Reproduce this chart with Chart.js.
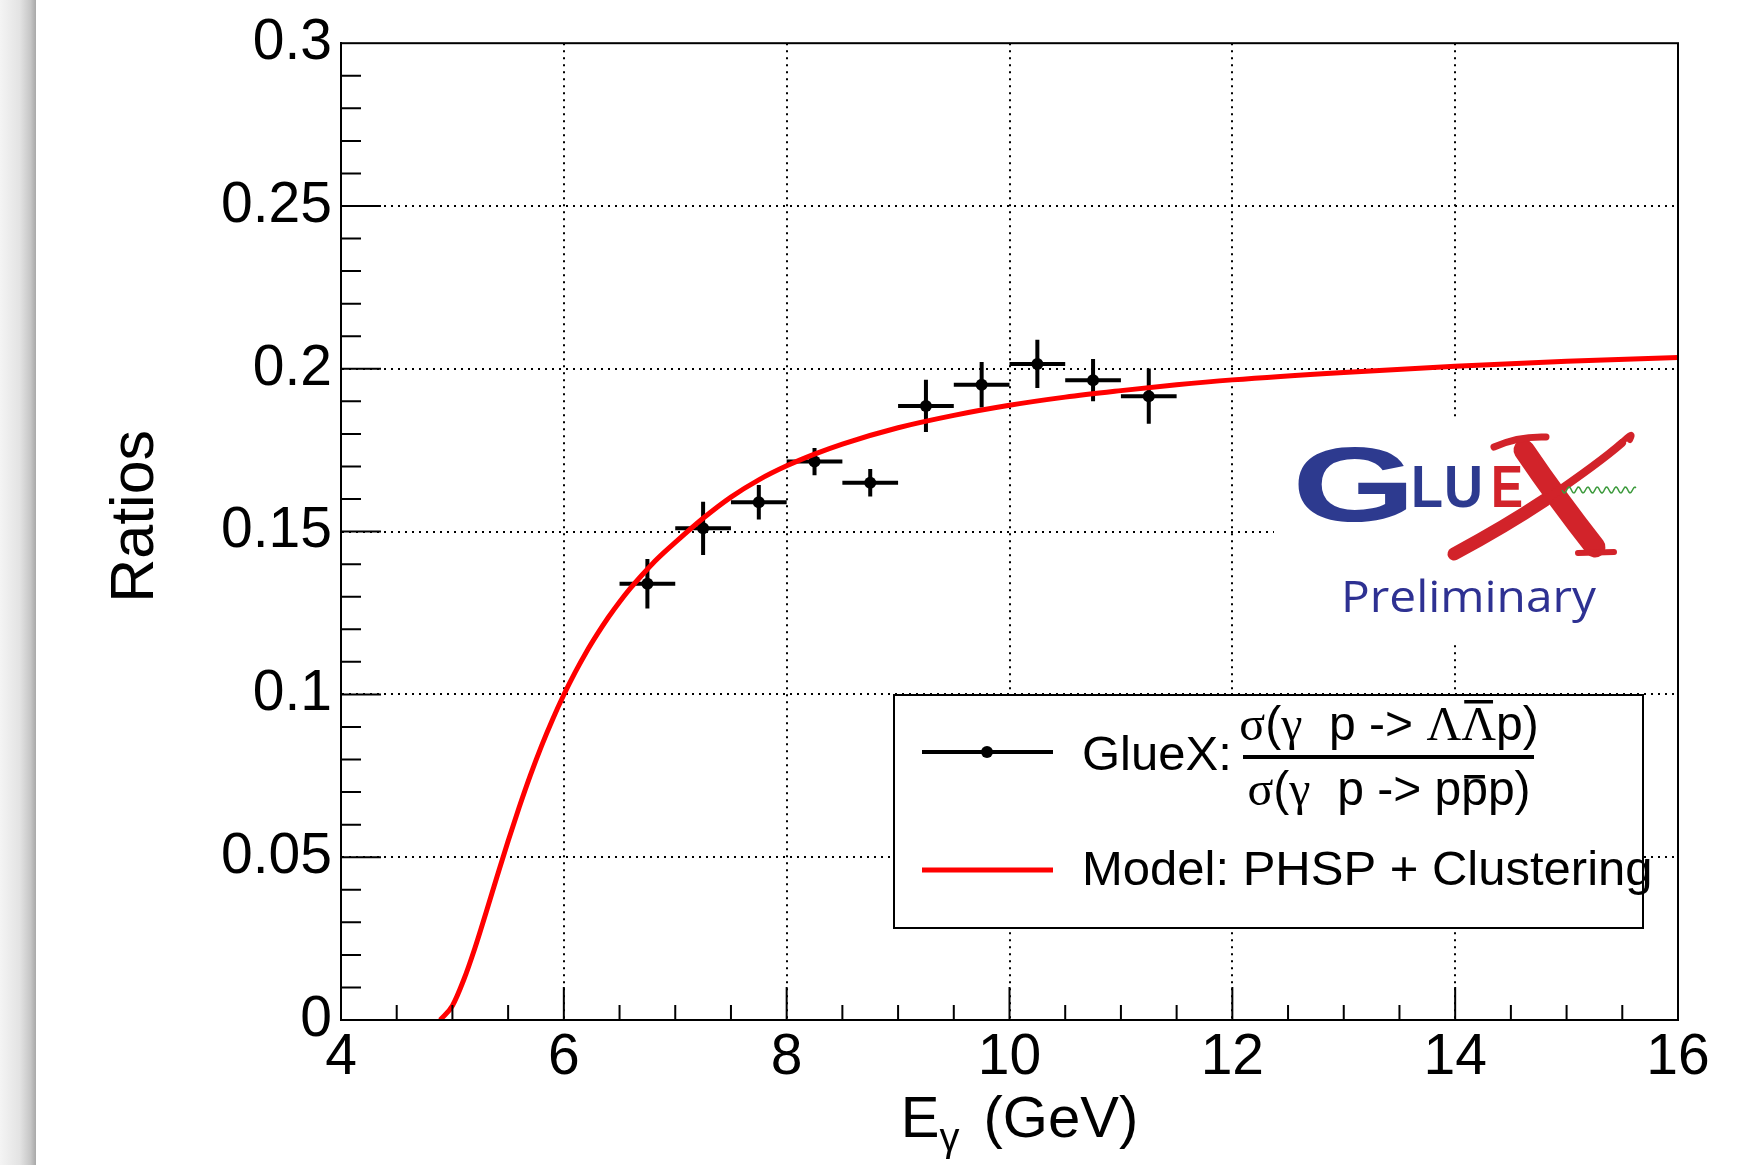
<!DOCTYPE html>
<html>
<head>
<meta charset="utf-8">
<script src="https://cdn.jsdelivr.net/npm/chart.js@4.4.1/dist/chart.umd.min.js"></script>
<style>
  html, body { margin: 0; padding: 0; background: #fff; }
  #wrap { width: 1737px; height: 1165px; }
</style>
</head>
<body>
<div id="wrap"><canvas id="ratioChart" width="1737" height="1165"></canvas></div>
<script>
// GlueX points (bin centre, half bin width, ratio, stat. error)
const energy = [6.75, 7.25, 7.75, 8.25, 8.75, 9.25, 9.75, 10.25, 10.75, 11.25];
const energyErr = [0.25, 0.25, 0.25, 0.25, 0.25, 0.25, 0.25, 0.25, 0.25, 0.25];
const ratio = [0.134, 0.151, 0.159, 0.1715, 0.165, 0.1886, 0.1951, 0.2015, 0.1965, 0.1916];
const ratioErr = [0.0076, 0.0082, 0.0053, 0.0042, 0.0042, 0.0080, 0.0070, 0.0074, 0.0065, 0.0085];

// model curve: PHSP + clustering
const modelEnergy = [4.89, 5.0, 5.1, 5.2, 5.3, 5.4, 5.5, 5.6, 5.7, 5.8, 5.9, 6.0, 6.1, 6.2, 6.3, 6.4,
  6.5, 6.6, 6.7, 6.8, 6.9, 7.0, 7.25, 7.5, 7.75, 8.0, 8.25, 8.5, 9.0, 9.5, 10.0, 10.5, 11.0, 11.5,
  12.0, 13.0, 14.0, 15.0, 16.0];
const modelRatio = [0, 0.0044, 0.0122, 0.0219, 0.0328, 0.044, 0.055, 0.0654, 0.0752, 0.0842, 0.0924,
  0.0999, 0.1067, 0.1129, 0.1185, 0.1237, 0.1284, 0.1327, 0.1366, 0.1403, 0.1436, 0.1467, 0.1541,
  0.1606, 0.1659, 0.1702, 0.1738, 0.1769, 0.1819, 0.1857, 0.1888, 0.1913, 0.1933, 0.1951, 0.1966,
  0.1989, 0.2008, 0.2023, 0.2035];

// axis ticks
const xTicks = [4, 6, 8, 10, 12, 14, 16];
const yTicks = [0, 0.05, 0.1, 0.15, 0.2, 0.25, 0.3];

const SANS = '"Liberation Sans", Arial, Helvetica, sans-serif';
const SERIF = '"Liberation Serif", "Times New Roman", serif';

// draws a row of text pieces centred on cx, some with an overline
function drawRich(ctx, segs, cx, baseline) {
  let total = 0;
  segs.forEach(s => { ctx.font = s.font; s.w = ctx.measureText(s.t).width; total += s.w; });
  let x = cx - total / 2;
  segs.forEach(s => {
    ctx.font = s.font;
    ctx.fillText(s.t, x, baseline);
    if (s.bar) ctx.fillRect(x + 3, baseline - s.bar, s.w - 6, 3.5);
    x += s.w;
  });
}

function fitText(ctx, text, x, baseline, width) {
  const w = ctx.measureText(text).width;
  ctx.save();
  ctx.translate(x, baseline);
  ctx.scale(width / w, 1);
  ctx.fillText(text, 0, 0);
  ctx.restore();
}

function drawLogo(ctx) {
  ctx.fillStyle = '#fff';
  ctx.fillRect(1274, 418, 400, 227);
  ctx.textBaseline = 'alphabetic';
  ctx.textAlign = 'left';
  ctx.fillStyle = '#2d3a8f';
  ctx.font = `bold 106px ${SANS}`;
  fitText(ctx, 'G', 1292, 521, 124);
  ctx.font = `bold 59px ${SANS}`;
  fitText(ctx, 'L', 1411, 507, 32);
  fitText(ctx, 'U', 1444, 507, 39);
  ctx.fillStyle = '#d2232a';
  fitText(ctx, 'E', 1491, 507, 32);

  // the swashed X
  ctx.strokeStyle = '#d2232a';
  ctx.lineCap = 'round';
  ctx.lineWidth = 21;
  ctx.beginPath();
  ctx.moveTo(1524, 450);
  ctx.quadraticCurveTo(1558, 500, 1595, 547);
  ctx.stroke();
  ctx.lineWidth = 7;
  ctx.beginPath();
  ctx.moveTo(1494, 447);
  ctx.quadraticCurveTo(1518, 436, 1546, 437);
  ctx.stroke();
  ctx.lineWidth = 6;
  ctx.beginPath();
  ctx.moveTo(1578, 553);
  ctx.lineTo(1614, 552);
  ctx.stroke();
  ctx.lineWidth = 13;
  ctx.beginPath();
  ctx.moveTo(1454, 554);
  ctx.bezierCurveTo(1480, 540, 1515, 520, 1545, 500);
  ctx.stroke();
  ctx.lineWidth = 8;
  ctx.beginPath();
  ctx.moveTo(1545, 500);
  ctx.bezierCurveTo(1580, 476, 1605, 458, 1622, 443);
  ctx.stroke();
  ctx.lineWidth = 6;
  ctx.beginPath();
  ctx.moveTo(1620, 444);
  ctx.quadraticCurveTo(1636, 428, 1630, 440);
  ctx.stroke();

  // green gluon wiggle
  ctx.strokeStyle = '#3c9a3c';
  ctx.lineWidth = 1.5;
  ctx.lineCap = 'butt';
  ctx.beginPath();
  for (let x = 1562; x <= 1636; x += 1) {
    const y = 490 + 3 * Math.sin((x - 1562) / 9.4 * 2 * Math.PI);
    if (x === 1562) ctx.moveTo(x, y); else ctx.lineTo(x, y);
  }
  ctx.stroke();

  ctx.fillStyle = '#2e3192';
  ctx.font = `43px "Open Sans", ${SANS}`;
  fitText(ctx, 'Preliminary', 1341, 612, 255);
}

function drawLegend(ctx) {
  ctx.fillStyle = '#fff';
  ctx.fillRect(894, 695, 749, 233);
  ctx.strokeStyle = '#000';
  ctx.lineWidth = 2;
  ctx.strokeRect(894, 695, 749, 233);
  ctx.lineWidth = 4;
  ctx.beginPath();
  ctx.moveTo(922, 752);
  ctx.lineTo(1053, 752);
  ctx.stroke();
  ctx.fillStyle = '#000';
  ctx.beginPath();
  ctx.arc(987, 752, 6, 0, 2 * Math.PI);
  ctx.fill();
  ctx.strokeStyle = '#ff0000';
  ctx.lineWidth = 5;
  ctx.beginPath();
  ctx.moveTo(922, 870);
  ctx.lineTo(1053, 870);
  ctx.stroke();

  ctx.fillStyle = '#000';
  ctx.textBaseline = 'alphabetic';
  ctx.textAlign = 'left';
  ctx.font = `49px ${SANS}`;
  ctx.fillText('GlueX:', 1082, 770);
  ctx.fillText('Model: PHSP + Clustering', 1082, 885);
  const fs = `48px ${SANS}`, fg = `48px ${SERIF}`;
  drawRich(ctx, [
    { t: 'σ', font: fg }, { t: '(', font: fs }, { t: 'γ', font: fg },
    { t: '  p -> ', font: fs }, { t: 'Λ', font: fg }, { t: 'Λ', font: fg, bar: 40 },
    { t: 'p)', font: fs }
  ], 1389, 740);
  ctx.fillRect(1243, 755, 291, 4);
  drawRich(ctx, [
    { t: 'σ', font: fg }, { t: '(', font: fs }, { t: 'γ', font: fg },
    { t: '  p -> p', font: fs }, { t: 'p', font: fs, bar: 30 }, { t: 'p)', font: fs }
  ], 1389, 805);
}

const rootStyle = {
  id: 'rootStyle',
  beforeDraw(chart) {
    const ctx = chart.ctx;
    ctx.save();
    ctx.fillStyle = '#fff';
    ctx.fillRect(0, 0, chart.width, chart.height);
    // grey window edge on the left
    const g = ctx.createLinearGradient(0, 0, 36, 0);
    g.addColorStop(0, '#f4f4f4');
    g.addColorStop(0.55, '#e3e3e3');
    g.addColorStop(0.85, '#c6c6c6');
    g.addColorStop(1, '#a8a8a8');
    ctx.fillStyle = g;
    ctx.fillRect(0, 0, 36, chart.height);
    ctx.restore();
  },
  beforeDatasetsDraw(chart) {
    // error bars under the markers
    const ctx = chart.ctx, xs = chart.scales.x, ys = chart.scales.y;
    ctx.save();
    ctx.strokeStyle = '#000';
    ctx.lineWidth = 4;
    energy.forEach((e, i) => {
      const px = xs.getPixelForValue(e), py = ys.getPixelForValue(ratio[i]);
      ctx.beginPath();
      ctx.moveTo(xs.getPixelForValue(e - energyErr[i]), py);
      ctx.lineTo(xs.getPixelForValue(e + energyErr[i]), py);
      ctx.moveTo(px, ys.getPixelForValue(ratio[i] - ratioErr[i]));
      ctx.lineTo(px, ys.getPixelForValue(ratio[i] + ratioErr[i]));
      ctx.stroke();
    });
    ctx.restore();
  },
  afterDatasetsDraw(chart) {
    const ctx = chart.ctx, xs = chart.scales.x, ys = chart.scales.y;
    const a = chart.chartArea;
    ctx.save();
    drawLogo(ctx);
    drawLegend(ctx);

    // ROOT style ticks inside the frame
    ctx.strokeStyle = '#000';
    ctx.lineWidth = 2;
    ctx.beginPath();
    for (let i = 1; i < 24; i++) {
      const px = xs.getPixelForValue(4 + i * 0.5);
      ctx.moveTo(px, a.bottom);
      ctx.lineTo(px, a.bottom - (i % 4 === 0 ? 33 : 15));
    }
    for (let i = 1; i < 30; i++) {
      const py = ys.getPixelForValue(i * 0.01);
      ctx.moveTo(a.left, py);
      ctx.lineTo(a.left + (i % 5 === 0 ? 40 : 20), py);
    }
    ctx.stroke();
    ctx.strokeRect(a.left, a.top, a.right - a.left, a.bottom - a.top);
    ctx.restore();
  },
  afterDraw(chart) {
    // x axis title with subscript
    const ctx = chart.ctx, a = chart.chartArea;
    const gap = 8;
    ctx.save();
    ctx.fillStyle = '#000';
    ctx.textBaseline = 'alphabetic';
    ctx.textAlign = 'left';
    ctx.font = `58px ${SANS}`;
    const wE = ctx.measureText('E').width, wP = ctx.measureText(' (GeV)').width;
    ctx.font = `40px ${SANS}`;
    const wG = ctx.measureText('γ').width;
    const x0 = (a.left + a.right) / 2 + 10 - (wE + wG + gap + wP) / 2;
    ctx.font = `58px ${SANS}`;
    ctx.fillText('E', x0, 1137);
    ctx.fillText(' (GeV)', x0 + wE + wG + gap, 1137);
    ctx.font = `40px ${SANS}`;
    ctx.fillText('γ', x0 + wE, 1151);
    ctx.restore();
  }
};

const hideEdge = (vals) => (c) => {
  const v = c.tick ? c.tick.value : null;
  return (v === vals[0] || v === vals[vals.length - 1]) ? 'rgba(0,0,0,0)' : '#000';
};

new Chart(document.getElementById('ratioChart'), {
  data: {
    datasets: [
      {
        type: 'line',
        label: 'Model: PHSP + Clustering',
        data: modelEnergy.map((e, i) => ({ x: e, y: modelRatio[i] })),
        borderColor: '#ff0000',
        borderWidth: 5,
        pointRadius: 0,
        fill: false,
        cubicInterpolationMode: 'monotone'
      },
      {
        type: 'scatter',
        label: 'GlueX',
        data: energy.map((e, i) => ({ x: e, y: ratio[i] })),
        pointRadius: 6,
        pointBackgroundColor: '#000',
        pointBorderWidth: 0
      }
    ]
  },
  options: {
    responsive: false,
    animation: false,
    devicePixelRatio: 1,
    layout: { padding: { top: 39, right: 59, left: 0, bottom: 0 } },
    plugins: { legend: { display: false }, tooltip: { enabled: false } },
    scales: {
      x: {
        type: 'linear',
        position: 'bottom',
        min: 4,
        max: 16,
        afterBuildTicks: s => { s.ticks = xTicks.map(v => ({ value: v })); },
        afterFit: s => { s.height = 145; },
        ticks: {
          color: '#000',
          padding: 4,
          maxRotation: 0,
          autoSkip: false,
          font: { family: SANS, size: 57 },
          callback: v => String(v)
        },
        grid: { drawTicks: false, color: hideEdge(xTicks), lineWidth: 2 },
        border: { display: true, color: '#000', width: 2, dash: [2, 5] }
      },
      y: {
        type: 'linear',
        min: 0,
        max: 0.3,
        afterBuildTicks: s => { s.ticks = yTicks.map(v => ({ value: v })); },
        afterFit: s => { s.width = 341; },
        ticks: {
          color: '#000',
          padding: 9,
          font: { family: SANS, size: 57 },
          callback: v => String(Number(v.toFixed(2)))
        },
        grid: { drawTicks: false, color: hideEdge(yTicks), lineWidth: 2 },
        border: { display: true, color: '#000', width: 2, dash: [2, 5] },
        title: {
          display: true,
          text: '\u2002Ratios',
          color: '#000',
          font: { family: SANS, size: 61, lineHeight: 1 },
          padding: { top: 106, bottom: 0 }
        }
      }
    }
  },
  plugins: [rootStyle]
});
</script>
</body>
</html>
